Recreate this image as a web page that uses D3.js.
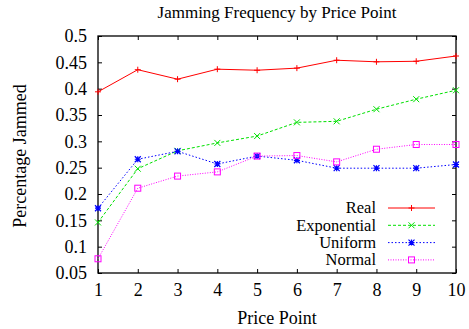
<!DOCTYPE html>
<html>
<head>
<meta charset="utf-8">
<script src="https://cdn.jsdelivr.net/npm/d3@7"></script>
<style>
  html, body { margin: 0; padding: 0; background: #fff; }
  svg text { font-family: "Liberation Serif", "Times New Roman", serif !important; fill: #000; }
</style>
</head>
<body>
<svg id="chart" width="469" height="329"></svg>
<script>
// Price points on the x axis
const pricePoints = [1, 2, 3, 4, 5, 6, 7, 8, 9, 10];

// Fraction of runs jammed at each price point
const realValues        = [0.394, 0.436, 0.418, 0.437, 0.435, 0.439, 0.454, 0.451, 0.452, 0.462];
const exponentialValues = [0.146, 0.248, 0.282, 0.297, 0.310, 0.336, 0.338, 0.361, 0.380, 0.397];
const uniformValues     = [0.173, 0.266, 0.281, 0.257, 0.272, 0.264, 0.249, 0.249, 0.249, 0.256];
const normalValues      = [0.077, 0.211, 0.234, 0.242, 0.272, 0.273, 0.261, 0.285, 0.294, 0.294];

const seriesNames = ["Real", "Exponential", "Uniform", "Normal"];
const yTicks = [0.05, 0.1, 0.15, 0.2, 0.25, 0.3, 0.35, 0.4, 0.45, 0.5];

const series = [
  { name: seriesNames[0], values: realValues,        color: "#ff0000", dash: null,    marker: "plus" },
  { name: seriesNames[1], values: exponentialValues, color: "#00e000", dash: "3,2",   marker: "cross" },
  { name: seriesNames[2], values: uniformValues,     color: "#0000ff", dash: "1.5,2", marker: "star" },
  { name: seriesNames[3], values: normalValues,      color: "#ff00ff", dash: "1,1.5", marker: "square" }
];

const svg = d3.select("#chart");
const plotLeft = 98, plotRight = 456, plotTop = 36, plotBottom = 273;
const serif = "'Liberation Serif', 'Times New Roman', serif";

const x = d3.scaleLinear().domain([1, 10]).range([plotLeft, plotRight]);
const y = d3.scaleLinear().domain([0.05, 0.5]).range([plotBottom, plotTop]);

// Title and axis labels
svg.append("text").attr("x", 277).attr("y", 18).attr("text-anchor", "middle")
  .style("font-family", serif).style("font-size", "17px").text("Jamming Frequency by Price Point");
svg.append("text").attr("x", 277).attr("y", 324).attr("text-anchor", "middle")
  .style("font-family", serif).style("font-size", "18px").text("Price Point");
svg.append("text").attr("transform", "translate(26,156) rotate(-90)").attr("text-anchor", "middle")
  .style("font-family", serif).style("font-size", "18px").text("Percentage Jammed");

// Axes with inward ticks, mirrored on the opposite sides
const tickLen = 4;
const axisFont = "18px";
const bottomAxis = svg.append("g").attr("transform", `translate(0,${plotBottom})`)
  .call(d3.axisBottom(x).tickValues(pricePoints).tickFormat(d3.format("d")).tickSizeInner(-tickLen).tickSizeOuter(0).tickPadding(12));
const topAxis = svg.append("g").attr("transform", `translate(0,${plotTop})`)
  .call(d3.axisTop(x).tickValues(pricePoints).tickFormat("").tickSizeInner(-tickLen).tickSizeOuter(0));
const leftAxis = svg.append("g").attr("transform", `translate(${plotLeft},0)`)
  .call(d3.axisLeft(y).tickValues(yTicks).tickFormat(d => String(+d.toFixed(2))).tickSizeInner(-tickLen).tickSizeOuter(0).tickPadding(11));
const rightAxis = svg.append("g").attr("transform", `translate(${plotRight},0)`)
  .call(d3.axisRight(y).tickValues(yTicks).tickFormat("").tickSizeInner(-tickLen).tickSizeOuter(0));

[bottomAxis, topAxis, leftAxis, rightAxis].forEach(g => {
  g.attr("font-family", serif).attr("font-size", axisFont);
  g.select(".domain").remove();
  g.selectAll(".tick line").attr("stroke", "#000").attr("stroke-width", 1);
  g.selectAll("text").style("font-family", serif).style("font-size", axisFont);
});
bottomAxis.selectAll("text").attr("dy", "0.6em");

// Plot frame
svg.append("rect").attr("x", plotLeft).attr("y", plotTop)
  .attr("width", plotRight - plotLeft).attr("height", plotBottom - plotTop)
  .attr("fill", "none").attr("stroke", "#000").attr("stroke-width", 1.3);

function drawMarker(g, type, cx, cy, color) {
  const s = 3;
  if (type === "plus") {
    g.append("path").attr("d", `M${cx - s},${cy}H${cx + s}M${cx},${cy - s}V${cy + s}`)
      .attr("stroke", color).attr("stroke-width", 1).attr("fill", "none");
  } else if (type === "cross") {
    g.append("path").attr("d", `M${cx - s},${cy - s}L${cx + s},${cy + s}M${cx - s},${cy + s}L${cx + s},${cy - s}`)
      .attr("stroke", color).attr("stroke-width", 1).attr("fill", "none");
  } else if (type === "star") {
    g.append("path").attr("d", `M${cx - s},${cy}H${cx + s}M${cx},${cy - s}V${cy + s}M${cx - s},${cy - s}L${cx + s},${cy + s}M${cx - s},${cy + s}L${cx + s},${cy - s}`)
      .attr("stroke", color).attr("stroke-width", 1.2).attr("fill", "none");
  } else if (type === "square") {
    g.append("rect").attr("x", cx - s).attr("y", cy - s).attr("width", 2 * s).attr("height", 2 * s)
      .attr("stroke", color).attr("stroke-width", 1).attr("fill", "none");
  }
}

const line = d3.line().x((d, i) => x(pricePoints[i])).y(d => y(d));

// Data series
series.forEach(s => {
  const g = svg.append("g");
  g.append("path").datum(s.values).attr("d", line)
    .attr("fill", "none").attr("stroke", s.color).attr("stroke-width", 1)
    .attr("stroke-dasharray", s.dash);
  s.values.forEach((v, i) => drawMarker(g, s.marker, x(pricePoints[i]), y(v), s.color));
});

// Legend
const legendTextX = 376, legendLineX0 = 388, legendLineX1 = 435;
series.forEach((s, i) => {
  const ly = 208 + i * 17.3;
  const g = svg.append("g");
  g.append("text").attr("x", legendTextX).attr("y", ly).attr("dy", "0.32em").attr("text-anchor", "end")
    .style("font-family", serif).style("font-size", "16.5px").text(s.name);
  g.append("line").attr("x1", legendLineX0).attr("x2", legendLineX1).attr("y1", ly).attr("y2", ly)
    .attr("stroke", s.color).attr("stroke-width", 1).attr("stroke-dasharray", s.dash);
  drawMarker(g, s.marker, (legendLineX0 + legendLineX1) / 2, ly, s.color);
});
</script>
</body>
</html>
